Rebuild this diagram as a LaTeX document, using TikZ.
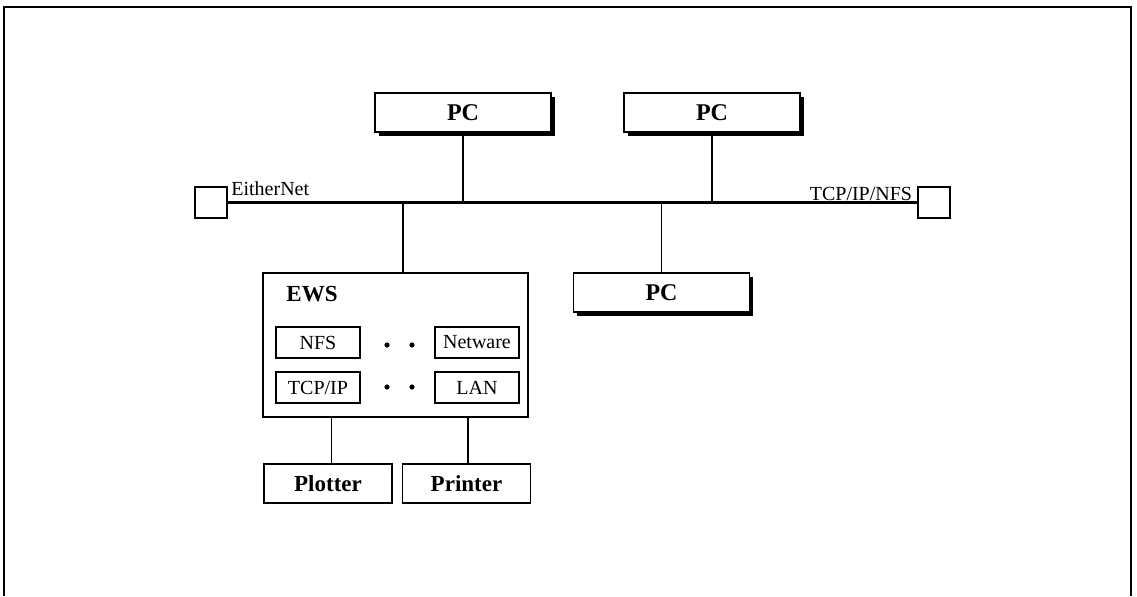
\documentclass[tikz,border=0pt]{standalone}
\usepackage{fontspec}
\setmainfont{Liberation Serif}
\usepackage{tikz}
\usetikzlibrary{shapes,arrows,positioning,calc,shadows}

\begin{document}
\begin{tikzpicture}[x=0.5pt, y=-0.5pt, >=latex,
    pcbox/.style={draw, fill=white, line width=0.8pt, minimum width=88pt, minimum height=19.5pt, inner sep=0pt,
      font=\fontsize{12}{14}\selectfont\bfseries,
      drop shadow={shadow xshift=1.8pt, shadow yshift=-1.8pt, fill=black, opacity=1}},
    devbox/.style={draw, line width=0.8pt, minimum width=64pt, minimum height=19.5pt, inner sep=0pt,
      font=\fontsize{11.5}{13}\selectfont\bfseries},
    protobox/.style={draw, line width=0.8pt, minimum width=42pt, minimum height=15.5pt, inner sep=0pt,
      font=\fontsize{10}{12}\selectfont},
    termbox/.style={draw, line width=1pt, minimum width=16pt, minimum height=15.5pt, inner sep=0pt},
    netlabel/.style={inner sep=0pt, font=\fontsize{10}{12}\selectfont},
    link/.style={line width=0.8pt}]
    \useasboundingbox (0,0) rectangle (1137,596);
    \draw[line width=1pt] (4,596) -- (4,7) -- (1131,7) -- (1131,596);

    \node[termbox] (termL) at (211,202.5) {};
    \node[termbox] (termR) at (933.5,202.5) {};
    \draw[line width=1.2pt] (termL.east) -- (termR.west);
    \node[netlabel, anchor=base west] (ethlbl) at ($(termL.east)+(3,-7)$) {EitherNet};
    \node[netlabel, anchor=base east] (tcplbl) at ($(termR.west)+(-4,-2)$) {TCP/IP/NFS};

    \node[pcbox] (pcA) at (463,112.5) {PC};
    \node[pcbox] (pcB) at (712,112.5) {PC};
    \node[pcbox] (pcC) at (661.5,292.5) {PC};

    \node[draw, line width=0.8pt, minimum width=132.5pt, minimum height=72pt] (ews) at (395.5,345) {};
    \node[inner sep=0pt, font=\fontsize{11.5}{13}\selectfont\bfseries] (ewslbl) at (312,294) {EWS};
    \node[protobox] (nfs) at (318,342.5) {NFS};
    \node[protobox] (tcpip) at (318,387.5) {TCP/IP};
    \node[protobox] (netw) at (477,342.5) {Netware};
    \node[protobox] (lan) at (477,387.5) {LAN};
    \foreach \y in {345,387}
      \foreach \x in {387,412}
        \fill (\x,\y) circle (1.3pt);

    \node[devbox] (plotter) at (328,483.5) {Plotter};
    \node[devbox] (printer) at (466.5,483.5) {Printer};

    \coordinate (ewsTop) at ($(ews.north)+(7.5,0)$);
    \coordinate (plotIn) at ($(plotter.north)+(3,0)$);
    \coordinate (printIn) at ($(printer.north)+(1.5,0)$);
    \draw[link] (pcA.south) -- (pcA.south |- termL.east);
    \draw[link] (pcB.south) -- (pcB.south |- termL.east);
    \draw[link] (pcC.north) -- (pcC.north |- termL.east);
    \draw[link] (ewsTop) -- (ewsTop |- termL.east);
    \draw[line width=0.4pt] (plotIn) -- (plotIn |- ews.south);
    \draw[link] (printIn) -- (printIn |- ews.south);
\end{tikzpicture}
\end{document}
